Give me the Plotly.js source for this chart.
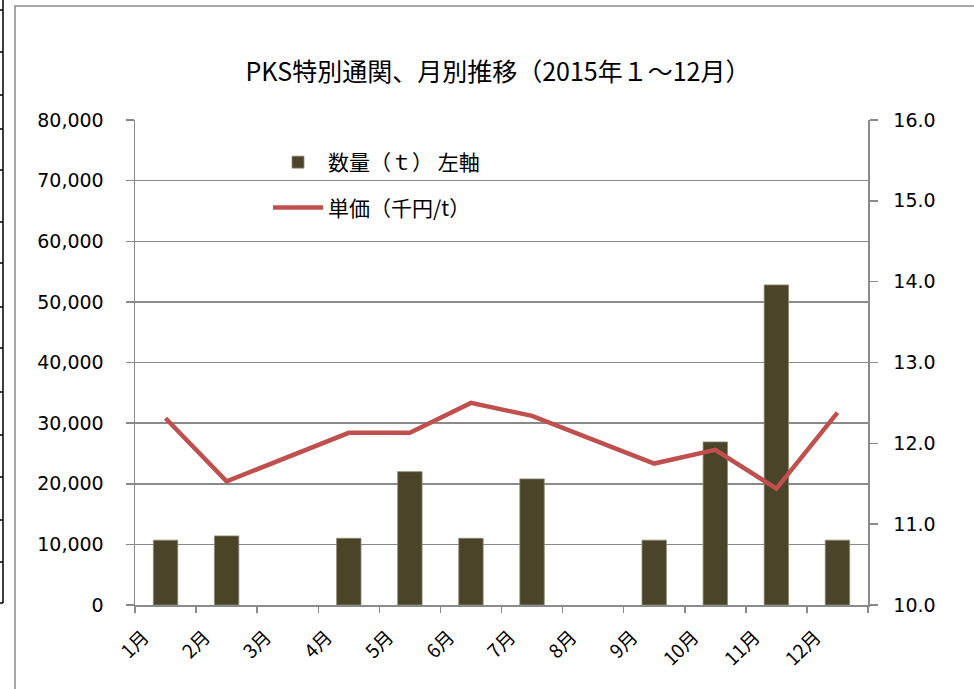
<!DOCTYPE html>
<html>
<head>
<meta charset="utf-8">
<script src="https://cdn.plot.ly/plotly-3.0.1.min.js"></script>
<style>html,body{margin:0;padding:0;background:#fff;}#chart{width:974px;height:689px;}</style>
</head>
<body>
<div id="chart"></div>
<script>
const months = ["1月","2月","3月","4月","5月","6月","7月","8月","9月","10月","11月","12月"];
const volume = [10700, 11400, null, 11000, 22000, 11000, 20800, null, 10700, 26900, 52800, 10700];
const unitPrice = [12.31, 11.53, null, 12.13, 12.13, 12.50, 12.34, null, 11.75, 11.92, 11.44, 12.38];
const volumeName = "数量（ｔ） 左軸";
const priceName = "単価（千円/t）";
const titleText = "PKS特別通関、月別推移（2015年１～12月）";

const W = 974, H = 689;
const L = 135, R = 106, T = 120, B = 84;
const pw = W - L - R, ph = H - T - B;
const px = x => (x - L) / pw;
const py = y => (H - B - y) / ph;

const jp = '"Noto Sans CJK JP", "Noto Sans", sans-serif';
const num = '"DejaVu Sans", sans-serif';

const traces = [
  {
    type: 'bar', x: months, y: volume, name: volumeName, yaxis: 'y',
    marker: {color: '#4a4429', line: {color: '#8f8b78', width: 0.8}},
    width: 0.4, legendgroup: 'a', hoverinfo: 'x+y'
  },
  {
    type: 'scatter', mode: 'lines', x: months, y: unitPrice, name: priceName, yaxis: 'y2',
    line: {color: '#c0504d', width: 4.5}, connectgaps: true, legendgroup: 'b'
  }
];

const shapes = [
  {type: 'rect', xref: 'paper', yref: 'paper', x0: px(15), x1: px(1010), y0: py(6), y1: py(720),
   line: {color: '#8a8a8a', width: 1.5}, fillcolor: 'rgba(0,0,0,0)', layer: 'below'},
  {type: 'line', xref: 'paper', yref: 'paper', x0: px(3), x1: px(3), y0: py(0), y1: py(603),
   line: {color: '#000', width: 1.5}}
];
[10, 52, 95, 129, 170, 222, 263, 307, 348, 392, 435, 477, 520, 562, 603].forEach(y => {
  shapes.push({type: 'line', xref: 'paper', yref: 'paper', x0: px(0), x1: px(3), y0: py(y), y1: py(y),
    line: {color: '#000', width: 1.5}});
});

const layout = {
  width: W, height: H,
  margin: {l: L, r: R, t: T, b: B, pad: 0},
  paper_bgcolor: '#fff', plot_bgcolor: '#fff',
  font: {family: jp, color: '#000'},
  title: {text: titleText, font: {family: jp, size: 25, color: '#000'},
          xref: 'paper', x: px(498), xanchor: 'center', yref: 'container', y: 1 - 72 / H, yanchor: 'middle'},
  showlegend: true,
  legend: {x: px(268), y: py(142), xanchor: 'left', yanchor: 'top', bgcolor: 'rgba(0,0,0,0)',
           font: {family: jp, size: 21, color: '#000'}, tracegroupgap: 15, itemwidth: 50,
           traceorder: 'grouped'},
  bargap: 0.6,
  xaxis: {
    type: 'category', showgrid: false, showline: true, linecolor: '#8a8a8a', linewidth: 1.5,
    ticks: 'outside', tickson: 'boundaries', ticklen: 6, tickcolor: '#8a8a8a', tickwidth: 1.5,
    tickangle: -45, tickfont: {family: jp, size: 19, color: '#000'}, ticklabelstandoff: 12,
    ticklabelshift: -22
  },
  yaxis: {
    range: [0, 80000], dtick: 10000, tick0: 0, tickformat: ',d', showgrid: true, gridcolor: '#8a8a8a', gridwidth: 1.5,
    zeroline: false, showline: true, linecolor: '#8a8a8a', linewidth: 1.5,
    ticks: 'outside', ticklen: 8, tickcolor: '#8a8a8a', tickwidth: 1.5,
    tickfont: {family: num, size: 19, color: '#000'}, ticklabelstandoff: 18, fixedrange: true
  },
  yaxis2: {
    overlaying: 'y', side: 'right', range: [10, 16], dtick: 1, tick0: 10, tickformat: '.1f',
    showgrid: false, zeroline: false, showline: true, linecolor: '#8a8a8a', linewidth: 1.5,
    ticks: 'outside', ticklen: 8, tickcolor: '#8a8a8a', tickwidth: 1.5,
    tickfont: {family: num, size: 19, color: '#000'}, ticklabelstandoff: 12
  },
  shapes: shapes
};

Plotly.newPlot('chart', traces, layout, {displayModeBar: false, staticPlot: true});
</script>
</body>
</html>
